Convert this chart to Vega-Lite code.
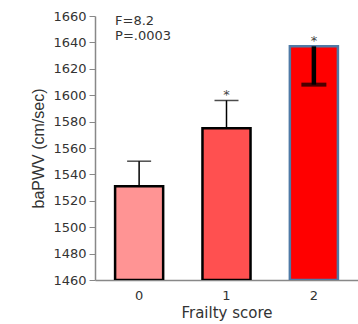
{
  "$schema": "https://vega.github.io/schema/vega-lite/v6.json",
  "autosize": "none",
  "width": 263,
  "height": 264,
  "padding": {"left": 95, "top": 16, "right": 0, "bottom": 44},
  "background": "white",
  "config": {"view": {"stroke": null},
    "axisY": {"grid": false, "tickSize": 6, "tickColor": "#888", "domainColor": "#888", "domainWidth": 1.5,
      "labelFont": "DejaVu Sans", "labelFontSize": 13, "labelColor": "#333", "labelPadding": 3, "labelOverlap": false, "labelBound": false,
      "titleFont": "Liberation Sans", "titleFontSize": 16, "titleFontWeight": "normal", "titleColor": "#333", "titlePadding": 6}},
  "data": {"values": [
    {"g": "0", "mean": 1531, "err": 1550, "upper": 1550, "sig": ""},
    {"g": "1", "mean": 1575, "err": 1596, "upper": 1596, "sig": "*"},
    {"g": "2", "mean": 1637, "err": 1608, "upper": 1637, "sig": "*"}
  ]},
  "encoding": {
    "x": {"field": "g", "type": "nominal", "sort": ["0", "1", "2"],
      "scale": {"paddingInner": 0.45, "paddingOuter": 0.23},
      "axis": {"title": "Frailty score", "labelAngle": 0, "ticks": false, "labelPadding": 9,
        "labelFont": "DejaVu Sans", "labelFontSize": 13, "labelColor": "#333",
        "titleFont": "DejaVu Sans", "titleFontSize": 15, "titleFontWeight": "normal", "titleColor": "#333", "titlePadding": 3,
        "domainColor": "#888", "domainWidth": 1.5}}
  },
  "layer": [
    {
      "mark": {"type": "bar", "strokeWidth": 2.5, "clip": true},
      "encoding": {
        "y": {"field": "mean", "type": "quantitative",
          "scale": {"domain": [1460, 1660], "zero": false, "nice": false},
          "axis": {"title": "baPWV (cm/sec)", "values": [1460,1480,1500,1520,1540,1560,1580,1600,1620,1640,1660], "format": "d"}},
        "y2": {"datum": 1460},
        "fill": {"field": "g", "type": "nominal", "scale": {"domain": ["0","1","2"], "range": ["#ff9494", "#ff5050", "#ff0000"]}, "legend": null},
        "stroke": {"field": "g", "type": "nominal", "scale": {"domain": ["0","1","2"], "range": ["#000000", "#000000", "#4f7aa6"]}, "legend": null}
      }
    },
    {
      "transform": [{"filter": "datum.g != '2'"}],
      "mark": {"type": "rule", "color": "black", "strokeWidth": 1.5},
      "encoding": {
        "y": {"field": "mean", "type": "quantitative",
          "axis": {"title": "baPWV (cm/sec)", "values": [1460,1480,1500,1520,1540,1560,1580,1600,1620,1640,1660], "format": "d"}},
        "y2": {"field": "err"}
      }
    },
    {
      "transform": [{"filter": "datum.g == '2'"}],
      "mark": {"type": "rule", "color": "black", "strokeWidth": 4.5},
      "encoding": {
        "y": {"field": "mean", "type": "quantitative",
          "axis": {"title": "baPWV (cm/sec)", "values": [1460,1480,1500,1520,1540,1560,1580,1600,1620,1640,1660], "format": "d"}},
        "y2": {"field": "err"}
      }
    },
    {
      "transform": [{"filter": "datum.g != '2'"}],
      "mark": {"type": "tick", "color": "black", "thickness": 1.5, "size": 24, "orient": "horizontal"},
      "encoding": {"y": {"field": "err", "type": "quantitative",
        "axis": {"title": "baPWV (cm/sec)", "values": [1460,1480,1500,1520,1540,1560,1580,1600,1620,1640,1660], "format": "d"}}}
    },
    {
      "transform": [{"filter": "datum.g == '2'"}],
      "mark": {"type": "tick", "color": "black", "thickness": 4, "size": 25, "orient": "horizontal"},
      "encoding": {"y": {"field": "err", "type": "quantitative",
        "axis": {"title": "baPWV (cm/sec)", "values": [1460,1480,1500,1520,1540,1560,1580,1600,1620,1640,1660], "format": "d"}}}
    },
    {
      "mark": {"type": "text", "baseline": "alphabetic", "dy": -1, "fontSize": 13, "font": "DejaVu Sans", "color": "#444"},
      "encoding": {
        "y": {"field": "upper", "type": "quantitative",
          "axis": {"title": "baPWV (cm/sec)", "values": [1460,1480,1500,1520,1540,1560,1580,1600,1620,1640,1660], "format": "d"}},
        "text": {"field": "sig"}
      }
    },
    {
      "data": {"values": [
        {"g": "0", "line": "F=8.2", "yv": 1653},
        {"g": "0", "line": "P=.0003", "yv": 1642}
      ]},
      "mark": {"type": "text", "align": "left", "baseline": "alphabetic", "fontSize": 13, "font": "DejaVu Sans", "color": "#333"},
      "encoding": {
        "x": {"field": "g", "type": "nominal", "bandPosition": 0},
        "y": {"field": "yv", "type": "quantitative",
          "axis": {"title": "baPWV (cm/sec)", "values": [1460,1480,1500,1520,1540,1560,1580,1600,1620,1640,1660], "format": "d"}},
        "text": {"field": "line"}
      }
    }
  ]
}
